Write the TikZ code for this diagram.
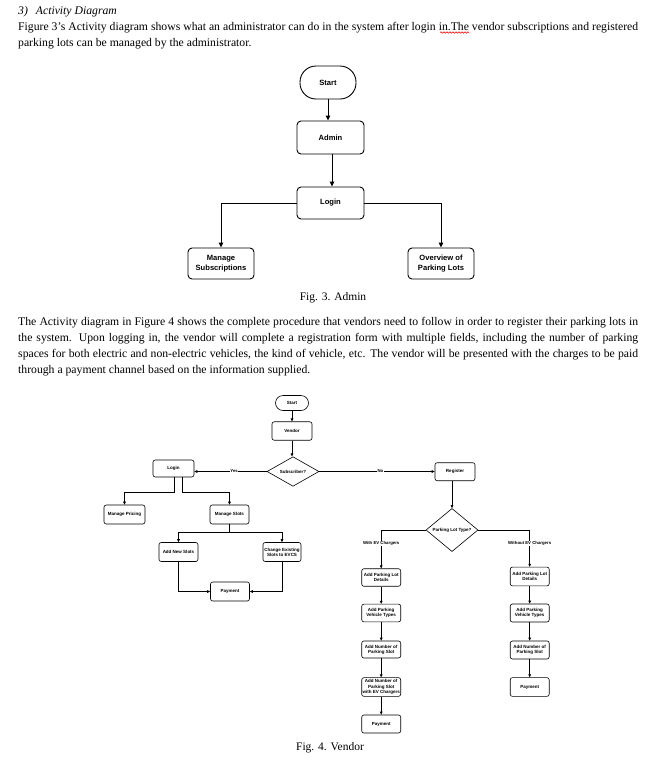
\documentclass[tikz,border=0pt]{standalone}
\usepackage{fontspec}
\setmainfont{Liberation Serif}
\setsansfont{Liberation Sans}
\usetikzlibrary{arrows.meta,shapes.geometric,calc,decorations.pathmorphing}
\tikzset{
  txt/.style={anchor=base west, inner sep=0pt, font=\fontsize{11.7}{16}\selectfont},
  figcap/.style={anchor=base, inner sep=0pt, font=\fontsize{11.5}{16}\selectfont},
  f3/.style={draw, line width=0.9pt, rounded corners=4pt, align=center, inner sep=1pt,
    font=\sffamily\bfseries\fontsize{7.6}{9.8}\selectfont},
  f3arr/.style={line width=0.9pt, -{Triangle[length=5pt,width=4.5pt]}},
  f4/.style={draw, line width=0.6pt, rounded corners=2.2pt, align=center, inner sep=0.5pt,
    minimum width=39pt, minimum height=18pt,
    font=\sffamily\bfseries\fontsize{4.5}{5.2}\selectfont},
  f4d/.style={draw, diamond, line width=0.6pt, inner sep=0pt, align=center,
    font=\sffamily\bfseries\fontsize{4.5}{5.2}\selectfont},
  f4arr/.style={line width=0.6pt, -{Triangle[length=3pt,width=2.6pt]}},
  lbl/.style={fill=white, inner sep=0.6pt, font=\sffamily\bfseries\fontsize{4.3}{5}\selectfont},
}
\begin{document}
\begin{tikzpicture}[x=1pt,y=-1pt]
\useasboundingbox[fill=white] (0,0) rectangle (651,764);

% ---------- text ----------
\node[txt] (h1) at (18,14) {\itshape 3)\hspace{8pt}Activity Diagram};
\node[txt] (p1a) at (18,30) {\makebox[620pt][s]{Figure 3’s Activity diagram shows what an administrator can do in the system after login in.The vendor subscriptions and registered}};
\node[txt] (p1b) at (18,46) {parking lots can be managed by the administrator.};
\draw[red, line width=0.6pt, decorate, decoration={snake, segment length=3pt, amplitude=0.7pt}] (440,32.5) -- (469,32.5);

\node[figcap] (c3) at (333,300) {Fig. 3. Admin};

\node[txt] (p2a) at (18,325) {\makebox[620pt][s]{The Activity diagram in Figure 4 shows the complete procedure that vendors need to follow in order to register their parking lots in}};
\node[txt] (p2b) at (18,341) {\makebox[620pt][s]{the system. Upon logging in, the vendor will complete a registration form with multiple fields, including the number of parking}};
\node[txt] (p2c) at (18,357) {\makebox[620pt][s]{spaces for both electric and non-electric vehicles, the kind of vehicle, etc. The vendor will be presented with the charges to be paid}};
\node[txt] (p2d) at (18,373) {through a payment channel based on the information supplied.};

\node[figcap] (c4) at (330,750) {Fig. 4. Vendor};

% ---------- Figure 3 ----------
\node[f3, minimum width=56pt, minimum height=33pt, rounded corners=16pt] (s3) at (328,82.5) {Start};
\node[f3, minimum width=67pt, minimum height=33pt] (admin) at (330.5,137.5) {Admin};
\node[f3, minimum width=67pt, minimum height=32pt] (login3) at (330.5,203) {Login};
\node[f3, minimum width=66pt, minimum height=31pt] (msub) at (221,263.5) {Manage\\Subscriptions};
\node[f3, minimum width=66pt, minimum height=31pt] (over) at (441,263.5) {Overview of\\Parking Lots};

\draw[f3arr] (s3.south) -- (s3.south |- admin.north);
\draw[f3arr] ([xshift=1.5pt]admin.south) -- ([xshift=1.5pt]admin.south |- login3.north);
\draw[f3arr] (login3.west) -| (msub.north);
\draw[f3arr] (login3.east) -| (over.north);

% ---------- Figure 4 ----------
\node[f4, minimum width=33pt, minimum height=15pt, rounded corners=7.5pt] (s4) at (292,403) {Start};
\node[f4, minimum width=40pt, minimum height=18.5pt] (vendor) at (292,431) {Vendor};
\node[f4d, minimum width=52pt, minimum height=25pt] (subs) at (293,471.5) {Subscriber?};
\node[f4, minimum width=41pt, minimum height=17pt] (login4) at (173.5,468.5) {Login};
\node[f4, minimum width=41pt, minimum height=19pt] (pricing) at (124.5,514.5) {Manage Pricing};
\node[f4, minimum width=39pt, minimum height=19pt] (slots) at (229.5,514.5) {Manage Slots};
\node[f4, minimum width=39pt, minimum height=19pt] (addnew) at (178.5,552) {Add New Slots};
\node[f4, minimum width=38pt, minimum height=19pt] (change) at (282,552) {Change Existing\\Slots to EVCS};
\node[f4, minimum width=39pt, minimum height=19pt] (pay1) at (230,591.5) {Payment};

\node[f4, minimum width=40pt, minimum height=18pt] (reg) at (455,471.7) {Register};
\node[f4d, minimum width=52pt, minimum height=24pt] (plt) at (452,530) {Parking Lot Type?};

\node[f4, minimum height=17.5pt] (d1) at (381.2,577.5) {Add Parking Lot\\Details};
\node[f4, minimum height=17.7pt] (v1) at (381.2,613) {Add Parking\\Vehicle Types};
\node[f4, minimum height=17pt] (n1) at (381.2,649.5) {Add Number of\\Parking Slot};
\node[f4, minimum height=18.7pt] (e1) at (381.2,687) {Add Number of\\Parking Slot\\with EV Chargers};
\node[f4, minimum height=18pt] (p1) at (381.2,724) {Payment};

\node[f4, minimum height=18.7pt] (d2) at (529.7,576.5) {Add Parking Lot\\Details};
\node[f4, minimum height=18pt] (v2) at (529.7,613) {Add Parking\\Vehicle Types};
\node[f4, minimum height=18pt] (n2) at (529.7,650) {Add Number of\\Parking Slot};
\node[f4, minimum height=18.7pt] (p2) at (529.7,687) {Payment};

\draw[f4arr] (s4.south) -- (vendor.north);
\draw[f4arr] (vendor.south) -- (vendor.south |- subs.north);
\draw[f4arr] (subs.west) -- node[lbl, pos=0.45] {Yes} (subs.west -| login4.east);
\draw[f4arr] (subs.east) -- node[lbl, pos=0.53] {No} (subs.east -| reg.west);
\draw[f4arr] ($(login4.south)+(0.5,0)$) -- ++(0,15) -| (pricing.north);
\draw[f4arr] ($(login4.south)+(9,0)$) -- ++(0,15) -| (slots.north);
\draw[f4arr] (slots.south) -- ++(0,8.2) -| (addnew.north);
\draw[f4arr] (slots.south) -- ++(0,8.2) -| (change.north);
\draw[f4arr] (addnew.south) |- (pay1.west);
\draw[f4arr] (change.south) |- (pay1.east);
\draw[f4arr] (plt.north |- reg.south) -- (plt.north);
\draw[f4arr] (plt.west) -| node[lbl, pos=0.68] {With EV Chargers} (d1.north);
\draw[f4arr] (plt.east) -| node[lbl, pos=0.68] {Without EV Chargers} (d2.north);
\draw[f4arr] (d1) -- (v1);
\draw[f4arr] (v1) -- (n1);
\draw[f4arr] (n1) -- (e1);
\draw[f4arr] (e1) -- (p1);
\draw[f4arr] (d2) -- (v2);
\draw[f4arr] (v2) -- (n2);
\draw[f4arr] (n2) -- (p2);
\end{tikzpicture}
\end{document}
